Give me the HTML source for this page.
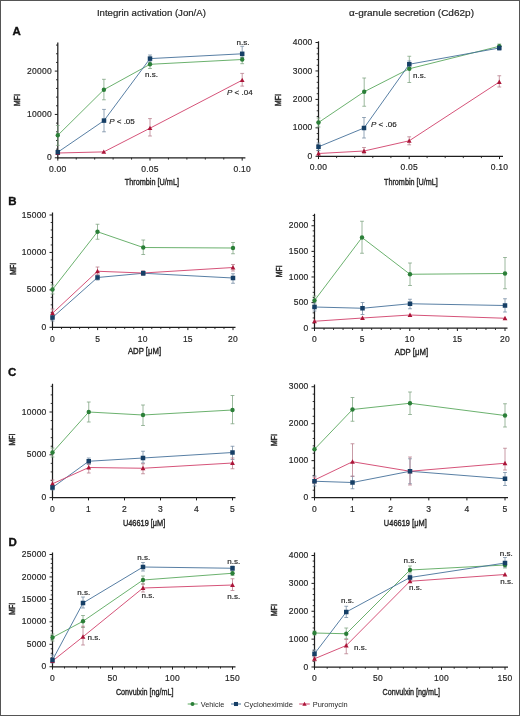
<!DOCTYPE html>
<html><head><meta charset="utf-8"><style>
html,body{margin:0;padding:0;background:#fff;}
body{width:520px;height:716px;overflow:hidden;}
svg{display:block;font-family:"Liberation Sans", sans-serif;will-change:transform;}
</style></head><body>
<svg width="520" height="716" viewBox="0 0 520 716">
<rect x="0" y="0" width="520" height="716" fill="#fff"/>
<line x1="57.8" y1="42.5" x2="57.8" y2="158.4" stroke="#1e1e1e" stroke-width="1.25"/>
<line x1="57.199999999999996" y1="157.8" x2="245.4" y2="157.8" stroke="#1e1e1e" stroke-width="1.25"/>
<line x1="54.8" y1="157.8" x2="57.8" y2="157.8" stroke="#1e1e1e" stroke-width="1"/>
<text x="51.90" y="160.40" font-size="8.5" text-anchor="end" font-weight="normal" font-style="normal" fill="#262626" stroke="#262626" stroke-width="0.18" letter-spacing="0.25">0</text>
<line x1="54.8" y1="114.45" x2="57.8" y2="114.45" stroke="#1e1e1e" stroke-width="1"/>
<text x="51.90" y="117.05" font-size="8.5" text-anchor="end" font-weight="normal" font-style="normal" fill="#262626" stroke="#262626" stroke-width="0.18" letter-spacing="0.25">10000</text>
<line x1="54.8" y1="71.1" x2="57.8" y2="71.1" stroke="#1e1e1e" stroke-width="1"/>
<text x="51.90" y="73.70" font-size="8.5" text-anchor="end" font-weight="normal" font-style="normal" fill="#262626" stroke="#262626" stroke-width="0.18" letter-spacing="0.25">20000</text>
<line x1="56.0" y1="149.13" x2="57.8" y2="149.13" stroke="#1e1e1e" stroke-width="0.9"/>
<line x1="56.0" y1="140.46" x2="57.8" y2="140.46" stroke="#1e1e1e" stroke-width="0.9"/>
<line x1="56.0" y1="131.79" x2="57.8" y2="131.79" stroke="#1e1e1e" stroke-width="0.9"/>
<line x1="56.0" y1="123.12" x2="57.8" y2="123.12" stroke="#1e1e1e" stroke-width="0.9"/>
<line x1="56.0" y1="105.78" x2="57.8" y2="105.78" stroke="#1e1e1e" stroke-width="0.9"/>
<line x1="56.0" y1="97.11" x2="57.8" y2="97.11" stroke="#1e1e1e" stroke-width="0.9"/>
<line x1="56.0" y1="88.44" x2="57.8" y2="88.44" stroke="#1e1e1e" stroke-width="0.9"/>
<line x1="56.0" y1="79.77" x2="57.8" y2="79.77" stroke="#1e1e1e" stroke-width="0.9"/>
<line x1="56.0" y1="62.43" x2="57.8" y2="62.43" stroke="#1e1e1e" stroke-width="0.9"/>
<line x1="56.0" y1="53.76" x2="57.8" y2="53.76" stroke="#1e1e1e" stroke-width="0.9"/>
<line x1="56.0" y1="45.09" x2="57.8" y2="45.09" stroke="#1e1e1e" stroke-width="0.9"/>
<line x1="57.8" y1="157.8" x2="57.8" y2="160.60000000000002" stroke="#1e1e1e" stroke-width="1"/>
<text x="57.80" y="171.50" font-size="8.5" text-anchor="middle" font-weight="normal" font-style="normal" fill="#262626" stroke="#262626" stroke-width="0.18" letter-spacing="0.25">0.00</text>
<line x1="150.0" y1="157.8" x2="150.0" y2="160.60000000000002" stroke="#1e1e1e" stroke-width="1"/>
<text x="150.00" y="171.50" font-size="8.5" text-anchor="middle" font-weight="normal" font-style="normal" fill="#262626" stroke="#262626" stroke-width="0.18" letter-spacing="0.25">0.05</text>
<line x1="242.2" y1="157.8" x2="242.2" y2="160.60000000000002" stroke="#1e1e1e" stroke-width="1"/>
<text x="242.20" y="171.50" font-size="8.5" text-anchor="middle" font-weight="normal" font-style="normal" fill="#262626" stroke="#262626" stroke-width="0.18" letter-spacing="0.25">0.10</text>
<line x1="76.24" y1="157.8" x2="76.24" y2="159.60000000000002" stroke="#1e1e1e" stroke-width="0.9"/>
<line x1="94.68" y1="157.8" x2="94.68" y2="159.60000000000002" stroke="#1e1e1e" stroke-width="0.9"/>
<line x1="113.12" y1="157.8" x2="113.12" y2="159.60000000000002" stroke="#1e1e1e" stroke-width="0.9"/>
<line x1="131.56" y1="157.8" x2="131.56" y2="159.60000000000002" stroke="#1e1e1e" stroke-width="0.9"/>
<line x1="168.44" y1="157.8" x2="168.44" y2="159.60000000000002" stroke="#1e1e1e" stroke-width="0.9"/>
<line x1="186.88" y1="157.8" x2="186.88" y2="159.60000000000002" stroke="#1e1e1e" stroke-width="0.9"/>
<line x1="205.32" y1="157.8" x2="205.32" y2="159.60000000000002" stroke="#1e1e1e" stroke-width="0.9"/>
<line x1="223.76" y1="157.8" x2="223.76" y2="159.60000000000002" stroke="#1e1e1e" stroke-width="0.9"/>
<text x="151.9" y="184.9" font-size="9.9" text-anchor="middle" fill="#262626" stroke="#262626" stroke-width="0.42" textLength="54.2" lengthAdjust="spacingAndGlyphs">Thrombin [U/mL]</text>
<text x="0" y="0" font-size="8.5" text-anchor="middle" fill="#262626" textLength="11.8" lengthAdjust="spacingAndGlyphs" stroke="#262626" stroke-width="0.5" transform="translate(20.2,100) rotate(-90)">MFI</text>
<path d="M57.80 125.50V145.40M55.90 125.50H59.70M55.90 145.40H59.70" stroke="#7ba27d" stroke-width="0.75" fill="none"/>
<path d="M103.90 79.30V99.80M102.00 79.30H105.80M102.00 99.80H105.80" stroke="#7ba27d" stroke-width="0.75" fill="none"/>
<path d="M150.00 60.00V68.50M148.10 60.00H151.90M148.10 68.50H151.90" stroke="#7ba27d" stroke-width="0.75" fill="none"/>
<path d="M242.20 57.00V63.70M240.30 57.00H244.10M240.30 63.70H244.10" stroke="#7ba27d" stroke-width="0.75" fill="none"/>
<path d="M104.00 109.40V131.80M102.10 109.40H105.90M102.10 131.80H105.90" stroke="#7088a0" stroke-width="0.75" fill="none"/>
<path d="M150.00 55.00V62.00M148.10 55.00H151.90M148.10 62.00H151.90" stroke="#7088a0" stroke-width="0.75" fill="none"/>
<path d="M242.20 46.30V57.50M240.30 46.30H244.10M240.30 57.50H244.10" stroke="#7088a0" stroke-width="0.75" fill="none"/>
<path d="M150.00 118.60V136.00M148.10 118.60H151.90M148.10 136.00H151.90" stroke="#b57a88" stroke-width="0.75" fill="none"/>
<path d="M242.20 73.40V86.10M240.30 73.40H244.10M240.30 86.10H244.10" stroke="#b57a88" stroke-width="0.75" fill="none"/>
<path d="M57.80 135.30 L103.90 89.70 L150.00 64.30 L242.20 59.50" stroke="#5aa85e" stroke-width="0.9" fill="none"/>
<path d="M57.80 152.20 L104.00 120.60 L150.00 58.60 L242.20 53.80" stroke="#45709a" stroke-width="0.9" fill="none"/>
<path d="M57.80 153.00 L103.80 151.90 L150.00 128.20 L242.20 80.20" stroke="#d0406a" stroke-width="0.9" fill="none"/>
<path d="M57.80 150.60L60.20 154.92L55.40 154.92Z" fill="#ab1538"/>
<path d="M103.80 149.50L106.20 153.82L101.40 153.82Z" fill="#ab1538"/>
<path d="M150.00 125.80L152.40 130.12L147.60 130.12Z" fill="#ab1538"/>
<path d="M242.20 77.80L244.60 82.12L239.80 82.12Z" fill="#ab1538"/>
<circle cx="57.80" cy="135.30" r="2.20" fill="#2b7f38"/>
<circle cx="103.90" cy="89.70" r="2.20" fill="#2b7f38"/>
<circle cx="150.00" cy="64.30" r="2.20" fill="#2b7f38"/>
<circle cx="242.20" cy="59.50" r="2.20" fill="#2b7f38"/>
<rect x="55.55" y="149.95" width="4.50" height="4.50" fill="#163f66"/>
<rect x="101.75" y="118.35" width="4.50" height="4.50" fill="#163f66"/>
<rect x="147.75" y="56.35" width="4.50" height="4.50" fill="#163f66"/>
<rect x="239.95" y="51.55" width="4.50" height="4.50" fill="#163f66"/>
<text x="109.20" y="123.50" font-size="8.0" text-anchor="start" font-weight="normal" font-style="normal" fill="#262626" stroke="#262626" stroke-width="0.18" ><tspan font-style="italic">P</tspan> &lt; .05</text>
<text x="151.50" y="76.50" font-size="8.0" text-anchor="middle" font-weight="normal" font-style="normal" fill="#262626" stroke="#262626" stroke-width="0.18" >n.s.</text>
<text x="243.00" y="44.80" font-size="8.0" text-anchor="middle" font-weight="normal" font-style="normal" fill="#262626" stroke="#262626" stroke-width="0.18" >n.s.</text>
<text x="227.00" y="95.30" font-size="8.0" text-anchor="start" font-weight="normal" font-style="normal" fill="#262626" stroke="#262626" stroke-width="0.18" ><tspan font-style="italic">P</tspan> &lt; .04</text>
<line x1="318.5" y1="41.3" x2="318.5" y2="156.9" stroke="#1e1e1e" stroke-width="1.25"/>
<line x1="317.9" y1="156.3" x2="503" y2="156.3" stroke="#1e1e1e" stroke-width="1.25"/>
<line x1="315.5" y1="156.3" x2="318.5" y2="156.3" stroke="#1e1e1e" stroke-width="1"/>
<text x="312.60" y="158.90" font-size="8.5" text-anchor="end" font-weight="normal" font-style="normal" fill="#262626" stroke="#262626" stroke-width="0.18" letter-spacing="0.25">0</text>
<line x1="315.5" y1="127.85000000000001" x2="318.5" y2="127.85000000000001" stroke="#1e1e1e" stroke-width="1"/>
<text x="312.60" y="130.45" font-size="8.5" text-anchor="end" font-weight="normal" font-style="normal" fill="#262626" stroke="#262626" stroke-width="0.18" letter-spacing="0.25">1000</text>
<line x1="315.5" y1="99.4" x2="318.5" y2="99.4" stroke="#1e1e1e" stroke-width="1"/>
<text x="312.60" y="102.00" font-size="8.5" text-anchor="end" font-weight="normal" font-style="normal" fill="#262626" stroke="#262626" stroke-width="0.18" letter-spacing="0.25">2000</text>
<line x1="315.5" y1="70.95" x2="318.5" y2="70.95" stroke="#1e1e1e" stroke-width="1"/>
<text x="312.60" y="73.55" font-size="8.5" text-anchor="end" font-weight="normal" font-style="normal" fill="#262626" stroke="#262626" stroke-width="0.18" letter-spacing="0.25">3000</text>
<line x1="315.5" y1="42.5" x2="318.5" y2="42.5" stroke="#1e1e1e" stroke-width="1"/>
<text x="312.60" y="45.10" font-size="8.5" text-anchor="end" font-weight="normal" font-style="normal" fill="#262626" stroke="#262626" stroke-width="0.18" letter-spacing="0.25">4000</text>
<line x1="316.7" y1="150.61" x2="318.5" y2="150.61" stroke="#1e1e1e" stroke-width="0.9"/>
<line x1="316.7" y1="144.92" x2="318.5" y2="144.92" stroke="#1e1e1e" stroke-width="0.9"/>
<line x1="316.7" y1="139.23" x2="318.5" y2="139.23" stroke="#1e1e1e" stroke-width="0.9"/>
<line x1="316.7" y1="133.54" x2="318.5" y2="133.54" stroke="#1e1e1e" stroke-width="0.9"/>
<line x1="316.7" y1="122.16" x2="318.5" y2="122.16" stroke="#1e1e1e" stroke-width="0.9"/>
<line x1="316.7" y1="116.47" x2="318.5" y2="116.47" stroke="#1e1e1e" stroke-width="0.9"/>
<line x1="316.7" y1="110.78" x2="318.5" y2="110.78" stroke="#1e1e1e" stroke-width="0.9"/>
<line x1="316.7" y1="105.09" x2="318.5" y2="105.09" stroke="#1e1e1e" stroke-width="0.9"/>
<line x1="316.7" y1="93.71" x2="318.5" y2="93.71" stroke="#1e1e1e" stroke-width="0.9"/>
<line x1="316.7" y1="88.02" x2="318.5" y2="88.02" stroke="#1e1e1e" stroke-width="0.9"/>
<line x1="316.7" y1="82.33" x2="318.5" y2="82.33" stroke="#1e1e1e" stroke-width="0.9"/>
<line x1="316.7" y1="76.64" x2="318.5" y2="76.64" stroke="#1e1e1e" stroke-width="0.9"/>
<line x1="316.7" y1="65.26" x2="318.5" y2="65.26" stroke="#1e1e1e" stroke-width="0.9"/>
<line x1="316.7" y1="59.57" x2="318.5" y2="59.57" stroke="#1e1e1e" stroke-width="0.9"/>
<line x1="316.7" y1="53.88" x2="318.5" y2="53.88" stroke="#1e1e1e" stroke-width="0.9"/>
<line x1="316.7" y1="48.19" x2="318.5" y2="48.19" stroke="#1e1e1e" stroke-width="0.9"/>
<line x1="318.5" y1="156.3" x2="318.5" y2="159.10000000000002" stroke="#1e1e1e" stroke-width="1"/>
<text x="318.50" y="170.00" font-size="8.5" text-anchor="middle" font-weight="normal" font-style="normal" fill="#262626" stroke="#262626" stroke-width="0.18" letter-spacing="0.25">0.00</text>
<line x1="409.2" y1="156.3" x2="409.2" y2="159.10000000000002" stroke="#1e1e1e" stroke-width="1"/>
<text x="409.20" y="170.00" font-size="8.5" text-anchor="middle" font-weight="normal" font-style="normal" fill="#262626" stroke="#262626" stroke-width="0.18" letter-spacing="0.25">0.05</text>
<line x1="499.5" y1="156.3" x2="499.5" y2="159.10000000000002" stroke="#1e1e1e" stroke-width="1"/>
<text x="499.50" y="170.00" font-size="8.5" text-anchor="middle" font-weight="normal" font-style="normal" fill="#262626" stroke="#262626" stroke-width="0.18" letter-spacing="0.25">0.10</text>
<line x1="336.60" y1="156.3" x2="336.60" y2="158.10000000000002" stroke="#1e1e1e" stroke-width="0.9"/>
<line x1="354.70" y1="156.3" x2="354.70" y2="158.10000000000002" stroke="#1e1e1e" stroke-width="0.9"/>
<line x1="372.80" y1="156.3" x2="372.80" y2="158.10000000000002" stroke="#1e1e1e" stroke-width="0.9"/>
<line x1="390.90" y1="156.3" x2="390.90" y2="158.10000000000002" stroke="#1e1e1e" stroke-width="0.9"/>
<line x1="427.10" y1="156.3" x2="427.10" y2="158.10000000000002" stroke="#1e1e1e" stroke-width="0.9"/>
<line x1="445.20" y1="156.3" x2="445.20" y2="158.10000000000002" stroke="#1e1e1e" stroke-width="0.9"/>
<line x1="463.30" y1="156.3" x2="463.30" y2="158.10000000000002" stroke="#1e1e1e" stroke-width="0.9"/>
<line x1="481.40" y1="156.3" x2="481.40" y2="158.10000000000002" stroke="#1e1e1e" stroke-width="0.9"/>
<text x="410.9" y="185.3" font-size="9.9" text-anchor="middle" fill="#262626" stroke="#262626" stroke-width="0.42" textLength="53.7" lengthAdjust="spacingAndGlyphs">Thrombin [U/mL]</text>
<text x="0" y="0" font-size="8.5" text-anchor="middle" fill="#262626" textLength="11.8" lengthAdjust="spacingAndGlyphs" stroke="#262626" stroke-width="0.5" transform="translate(281.45,100) rotate(-90)">MFI</text>
<path d="M318.50 118.00V127.00M316.60 118.00H320.40M316.60 127.00H320.40" stroke="#7ba27d" stroke-width="0.75" fill="none"/>
<path d="M364.20 78.00V106.25M362.30 78.00H366.10M362.30 106.25H366.10" stroke="#7ba27d" stroke-width="0.75" fill="none"/>
<path d="M409.30 56.25V82.50M407.40 56.25H411.20M407.40 82.50H411.20" stroke="#7ba27d" stroke-width="0.75" fill="none"/>
<path d="M499.30 44.00V48.50M497.40 44.00H501.20M497.40 48.50H501.20" stroke="#7ba27d" stroke-width="0.75" fill="none"/>
<path d="M318.50 143.00V150.50M316.60 143.00H320.40M316.60 150.50H320.40" stroke="#7088a0" stroke-width="0.75" fill="none"/>
<path d="M364.00 117.50V138.00M362.10 117.50H365.90M362.10 138.00H365.90" stroke="#7088a0" stroke-width="0.75" fill="none"/>
<path d="M409.30 61.00V67.50M407.40 61.00H411.20M407.40 67.50H411.20" stroke="#7088a0" stroke-width="0.75" fill="none"/>
<path d="M499.30 46.00V50.00M497.40 46.00H501.20M497.40 50.00H501.20" stroke="#7088a0" stroke-width="0.75" fill="none"/>
<path d="M364.00 147.50V153.75M362.10 147.50H365.90M362.10 153.75H365.90" stroke="#b57a88" stroke-width="0.75" fill="none"/>
<path d="M409.20 136.80V144.80M407.30 136.80H411.10M407.30 144.80H411.10" stroke="#b57a88" stroke-width="0.75" fill="none"/>
<path d="M499.30 75.75V87.00M497.40 75.75H501.20M497.40 87.00H501.20" stroke="#b57a88" stroke-width="0.75" fill="none"/>
<path d="M318.50 122.50 L364.20 91.75 L409.30 68.75 L499.30 46.25" stroke="#5aa85e" stroke-width="0.9" fill="none"/>
<path d="M318.50 146.80 L364.00 128.00 L409.30 64.25 L499.30 48.00" stroke="#45709a" stroke-width="0.9" fill="none"/>
<path d="M318.50 153.50 L364.00 151.00 L409.20 140.80 L499.30 82.00" stroke="#d0406a" stroke-width="0.9" fill="none"/>
<path d="M318.50 151.10L320.90 155.42L316.10 155.42Z" fill="#ab1538"/>
<path d="M364.00 148.60L366.40 152.92L361.60 152.92Z" fill="#ab1538"/>
<path d="M409.20 138.40L411.60 142.72L406.80 142.72Z" fill="#ab1538"/>
<path d="M499.30 79.60L501.70 83.92L496.90 83.92Z" fill="#ab1538"/>
<circle cx="318.50" cy="122.50" r="2.20" fill="#2b7f38"/>
<circle cx="364.20" cy="91.75" r="2.20" fill="#2b7f38"/>
<circle cx="409.30" cy="68.75" r="2.20" fill="#2b7f38"/>
<circle cx="499.30" cy="46.25" r="2.20" fill="#2b7f38"/>
<rect x="316.25" y="144.55" width="4.50" height="4.50" fill="#163f66"/>
<rect x="361.75" y="125.75" width="4.50" height="4.50" fill="#163f66"/>
<rect x="407.05" y="62.00" width="4.50" height="4.50" fill="#163f66"/>
<rect x="497.05" y="45.75" width="4.50" height="4.50" fill="#163f66"/>
<text x="371.00" y="127.20" font-size="8.0" text-anchor="start" font-weight="normal" font-style="normal" fill="#262626" stroke="#262626" stroke-width="0.18" ><tspan font-style="italic">P</tspan> &lt; .06</text>
<text x="413.00" y="78.00" font-size="8.0" text-anchor="start" font-weight="normal" font-style="normal" fill="#262626" stroke="#262626" stroke-width="0.18" >n.s.</text>
<line x1="52.5" y1="212.5" x2="52.5" y2="327.90000000000003" stroke="#1e1e1e" stroke-width="1.25"/>
<line x1="51.9" y1="327.3" x2="235.5" y2="327.3" stroke="#1e1e1e" stroke-width="1.25"/>
<line x1="49.5" y1="327.3" x2="52.5" y2="327.3" stroke="#1e1e1e" stroke-width="1"/>
<text x="46.60" y="329.90" font-size="8.5" text-anchor="end" font-weight="normal" font-style="normal" fill="#262626" stroke="#262626" stroke-width="0.18" letter-spacing="0.25">0</text>
<line x1="49.5" y1="289.8666666666667" x2="52.5" y2="289.8666666666667" stroke="#1e1e1e" stroke-width="1"/>
<text x="46.60" y="292.47" font-size="8.5" text-anchor="end" font-weight="normal" font-style="normal" fill="#262626" stroke="#262626" stroke-width="0.18" letter-spacing="0.25">5000</text>
<line x1="49.5" y1="252.43333333333334" x2="52.5" y2="252.43333333333334" stroke="#1e1e1e" stroke-width="1"/>
<text x="46.60" y="255.03" font-size="8.5" text-anchor="end" font-weight="normal" font-style="normal" fill="#262626" stroke="#262626" stroke-width="0.18" letter-spacing="0.25">10000</text>
<line x1="49.5" y1="215.0" x2="52.5" y2="215.0" stroke="#1e1e1e" stroke-width="1"/>
<text x="46.60" y="217.60" font-size="8.5" text-anchor="end" font-weight="normal" font-style="normal" fill="#262626" stroke="#262626" stroke-width="0.18" letter-spacing="0.25">15000</text>
<line x1="50.7" y1="319.81" x2="52.5" y2="319.81" stroke="#1e1e1e" stroke-width="0.9"/>
<line x1="50.7" y1="312.33" x2="52.5" y2="312.33" stroke="#1e1e1e" stroke-width="0.9"/>
<line x1="50.7" y1="304.84" x2="52.5" y2="304.84" stroke="#1e1e1e" stroke-width="0.9"/>
<line x1="50.7" y1="297.35" x2="52.5" y2="297.35" stroke="#1e1e1e" stroke-width="0.9"/>
<line x1="50.7" y1="282.38" x2="52.5" y2="282.38" stroke="#1e1e1e" stroke-width="0.9"/>
<line x1="50.7" y1="274.89" x2="52.5" y2="274.89" stroke="#1e1e1e" stroke-width="0.9"/>
<line x1="50.7" y1="267.41" x2="52.5" y2="267.41" stroke="#1e1e1e" stroke-width="0.9"/>
<line x1="50.7" y1="259.92" x2="52.5" y2="259.92" stroke="#1e1e1e" stroke-width="0.9"/>
<line x1="50.7" y1="244.95" x2="52.5" y2="244.95" stroke="#1e1e1e" stroke-width="0.9"/>
<line x1="50.7" y1="237.46" x2="52.5" y2="237.46" stroke="#1e1e1e" stroke-width="0.9"/>
<line x1="50.7" y1="229.97" x2="52.5" y2="229.97" stroke="#1e1e1e" stroke-width="0.9"/>
<line x1="50.7" y1="222.49" x2="52.5" y2="222.49" stroke="#1e1e1e" stroke-width="0.9"/>
<line x1="52.5" y1="327.3" x2="52.5" y2="330.1" stroke="#1e1e1e" stroke-width="1"/>
<text x="52.50" y="341.50" font-size="8.5" text-anchor="middle" font-weight="normal" font-style="normal" fill="#262626" stroke="#262626" stroke-width="0.18" letter-spacing="0.25">0</text>
<line x1="97.625" y1="327.3" x2="97.625" y2="330.1" stroke="#1e1e1e" stroke-width="1"/>
<text x="97.62" y="341.50" font-size="8.5" text-anchor="middle" font-weight="normal" font-style="normal" fill="#262626" stroke="#262626" stroke-width="0.18" letter-spacing="0.25">5</text>
<line x1="142.75" y1="327.3" x2="142.75" y2="330.1" stroke="#1e1e1e" stroke-width="1"/>
<text x="142.75" y="341.50" font-size="8.5" text-anchor="middle" font-weight="normal" font-style="normal" fill="#262626" stroke="#262626" stroke-width="0.18" letter-spacing="0.25">10</text>
<line x1="187.875" y1="327.3" x2="187.875" y2="330.1" stroke="#1e1e1e" stroke-width="1"/>
<text x="187.88" y="341.50" font-size="8.5" text-anchor="middle" font-weight="normal" font-style="normal" fill="#262626" stroke="#262626" stroke-width="0.18" letter-spacing="0.25">15</text>
<line x1="233.0" y1="327.3" x2="233.0" y2="330.1" stroke="#1e1e1e" stroke-width="1"/>
<text x="233.00" y="341.50" font-size="8.5" text-anchor="middle" font-weight="normal" font-style="normal" fill="#262626" stroke="#262626" stroke-width="0.18" letter-spacing="0.25">20</text>
<line x1="61.52" y1="327.3" x2="61.52" y2="329.1" stroke="#1e1e1e" stroke-width="0.9"/>
<line x1="70.55" y1="327.3" x2="70.55" y2="329.1" stroke="#1e1e1e" stroke-width="0.9"/>
<line x1="79.58" y1="327.3" x2="79.58" y2="329.1" stroke="#1e1e1e" stroke-width="0.9"/>
<line x1="88.60" y1="327.3" x2="88.60" y2="329.1" stroke="#1e1e1e" stroke-width="0.9"/>
<line x1="106.65" y1="327.3" x2="106.65" y2="329.1" stroke="#1e1e1e" stroke-width="0.9"/>
<line x1="115.68" y1="327.3" x2="115.68" y2="329.1" stroke="#1e1e1e" stroke-width="0.9"/>
<line x1="124.70" y1="327.3" x2="124.70" y2="329.1" stroke="#1e1e1e" stroke-width="0.9"/>
<line x1="133.73" y1="327.3" x2="133.73" y2="329.1" stroke="#1e1e1e" stroke-width="0.9"/>
<line x1="151.78" y1="327.3" x2="151.78" y2="329.1" stroke="#1e1e1e" stroke-width="0.9"/>
<line x1="160.80" y1="327.3" x2="160.80" y2="329.1" stroke="#1e1e1e" stroke-width="0.9"/>
<line x1="169.82" y1="327.3" x2="169.82" y2="329.1" stroke="#1e1e1e" stroke-width="0.9"/>
<line x1="178.85" y1="327.3" x2="178.85" y2="329.1" stroke="#1e1e1e" stroke-width="0.9"/>
<line x1="196.90" y1="327.3" x2="196.90" y2="329.1" stroke="#1e1e1e" stroke-width="0.9"/>
<line x1="205.93" y1="327.3" x2="205.93" y2="329.1" stroke="#1e1e1e" stroke-width="0.9"/>
<line x1="214.95" y1="327.3" x2="214.95" y2="329.1" stroke="#1e1e1e" stroke-width="0.9"/>
<line x1="223.97" y1="327.3" x2="223.97" y2="329.1" stroke="#1e1e1e" stroke-width="0.9"/>
<text x="144.5" y="354.4" font-size="9.9" text-anchor="middle" fill="#262626" stroke="#262626" stroke-width="0.42" textLength="33.1" lengthAdjust="spacingAndGlyphs">ADP [μM]</text>
<text x="0" y="0" font-size="8.5" text-anchor="middle" fill="#262626" textLength="11.8" lengthAdjust="spacingAndGlyphs" stroke="#262626" stroke-width="0.5" transform="translate(15.95,268.75) rotate(-90)">MFI</text>
<path d="M52.50 285.00V294.00M50.60 285.00H54.40M50.60 294.00H54.40" stroke="#7ba27d" stroke-width="0.75" fill="none"/>
<path d="M97.50 224.25V239.25M95.60 224.25H99.40M95.60 239.25H99.40" stroke="#7ba27d" stroke-width="0.75" fill="none"/>
<path d="M143.25 240.00V254.50M141.35 240.00H145.15M141.35 254.50H145.15" stroke="#7ba27d" stroke-width="0.75" fill="none"/>
<path d="M233.00 242.50V253.75M231.10 242.50H234.90M231.10 253.75H234.90" stroke="#7ba27d" stroke-width="0.75" fill="none"/>
<path d="M52.50 314.00V321.00M50.60 314.00H54.40M50.60 321.00H54.40" stroke="#7088a0" stroke-width="0.75" fill="none"/>
<path d="M97.50 275.00V280.00M95.60 275.00H99.40M95.60 280.00H99.40" stroke="#7088a0" stroke-width="0.75" fill="none"/>
<path d="M143.25 271.00V275.50M141.35 271.00H145.15M141.35 275.50H145.15" stroke="#7088a0" stroke-width="0.75" fill="none"/>
<path d="M233.00 273.75V283.25M231.10 273.75H234.90M231.10 283.25H234.90" stroke="#7088a0" stroke-width="0.75" fill="none"/>
<path d="M52.50 309.00V317.00M50.60 309.00H54.40M50.60 317.00H54.40" stroke="#b57a88" stroke-width="0.75" fill="none"/>
<path d="M97.50 267.00V275.00M95.60 267.00H99.40M95.60 275.00H99.40" stroke="#b57a88" stroke-width="0.75" fill="none"/>
<path d="M143.00 271.00V275.00M141.10 271.00H144.90M141.10 275.00H144.90" stroke="#b57a88" stroke-width="0.75" fill="none"/>
<path d="M233.00 264.50V271.00M231.10 264.50H234.90M231.10 271.00H234.90" stroke="#b57a88" stroke-width="0.75" fill="none"/>
<path d="M52.50 289.50 L97.50 231.75 L143.25 247.50 L233.00 248.00" stroke="#5aa85e" stroke-width="0.9" fill="none"/>
<path d="M52.50 317.50 L97.50 277.50 L143.25 273.25 L233.00 278.00" stroke="#45709a" stroke-width="0.9" fill="none"/>
<path d="M52.50 313.25 L97.50 271.25 L143.00 273.00 L233.00 267.50" stroke="#d0406a" stroke-width="0.9" fill="none"/>
<path d="M52.50 310.85L54.90 315.17L50.10 315.17Z" fill="#ab1538"/>
<path d="M97.50 268.85L99.90 273.17L95.10 273.17Z" fill="#ab1538"/>
<path d="M143.00 270.60L145.40 274.92L140.60 274.92Z" fill="#ab1538"/>
<path d="M233.00 265.10L235.40 269.42L230.60 269.42Z" fill="#ab1538"/>
<circle cx="52.50" cy="289.50" r="2.20" fill="#2b7f38"/>
<circle cx="97.50" cy="231.75" r="2.20" fill="#2b7f38"/>
<circle cx="143.25" cy="247.50" r="2.20" fill="#2b7f38"/>
<circle cx="233.00" cy="248.00" r="2.20" fill="#2b7f38"/>
<rect x="50.25" y="315.25" width="4.50" height="4.50" fill="#163f66"/>
<rect x="95.25" y="275.25" width="4.50" height="4.50" fill="#163f66"/>
<rect x="141.00" y="271.00" width="4.50" height="4.50" fill="#163f66"/>
<rect x="230.75" y="275.75" width="4.50" height="4.50" fill="#163f66"/>
<line x1="314.5" y1="213.75" x2="314.5" y2="328.8" stroke="#1e1e1e" stroke-width="1.25"/>
<line x1="313.9" y1="328.2" x2="507.5" y2="328.2" stroke="#1e1e1e" stroke-width="1.25"/>
<line x1="311.5" y1="328.2" x2="314.5" y2="328.2" stroke="#1e1e1e" stroke-width="1"/>
<text x="308.60" y="330.80" font-size="8.5" text-anchor="end" font-weight="normal" font-style="normal" fill="#262626" stroke="#262626" stroke-width="0.18" letter-spacing="0.25">0</text>
<line x1="311.5" y1="302.5875" x2="314.5" y2="302.5875" stroke="#1e1e1e" stroke-width="1"/>
<text x="308.60" y="305.19" font-size="8.5" text-anchor="end" font-weight="normal" font-style="normal" fill="#262626" stroke="#262626" stroke-width="0.18" letter-spacing="0.25">500</text>
<line x1="311.5" y1="276.975" x2="314.5" y2="276.975" stroke="#1e1e1e" stroke-width="1"/>
<text x="308.60" y="279.58" font-size="8.5" text-anchor="end" font-weight="normal" font-style="normal" fill="#262626" stroke="#262626" stroke-width="0.18" letter-spacing="0.25">1000</text>
<line x1="311.5" y1="251.3625" x2="314.5" y2="251.3625" stroke="#1e1e1e" stroke-width="1"/>
<text x="308.60" y="253.96" font-size="8.5" text-anchor="end" font-weight="normal" font-style="normal" fill="#262626" stroke="#262626" stroke-width="0.18" letter-spacing="0.25">1500</text>
<line x1="311.5" y1="225.75" x2="314.5" y2="225.75" stroke="#1e1e1e" stroke-width="1"/>
<text x="308.60" y="228.35" font-size="8.5" text-anchor="end" font-weight="normal" font-style="normal" fill="#262626" stroke="#262626" stroke-width="0.18" letter-spacing="0.25">2000</text>
<line x1="312.7" y1="323.08" x2="314.5" y2="323.08" stroke="#1e1e1e" stroke-width="0.9"/>
<line x1="312.7" y1="317.95" x2="314.5" y2="317.95" stroke="#1e1e1e" stroke-width="0.9"/>
<line x1="312.7" y1="312.83" x2="314.5" y2="312.83" stroke="#1e1e1e" stroke-width="0.9"/>
<line x1="312.7" y1="307.71" x2="314.5" y2="307.71" stroke="#1e1e1e" stroke-width="0.9"/>
<line x1="312.7" y1="297.46" x2="314.5" y2="297.46" stroke="#1e1e1e" stroke-width="0.9"/>
<line x1="312.7" y1="292.34" x2="314.5" y2="292.34" stroke="#1e1e1e" stroke-width="0.9"/>
<line x1="312.7" y1="287.22" x2="314.5" y2="287.22" stroke="#1e1e1e" stroke-width="0.9"/>
<line x1="312.7" y1="282.10" x2="314.5" y2="282.10" stroke="#1e1e1e" stroke-width="0.9"/>
<line x1="312.7" y1="271.85" x2="314.5" y2="271.85" stroke="#1e1e1e" stroke-width="0.9"/>
<line x1="312.7" y1="266.73" x2="314.5" y2="266.73" stroke="#1e1e1e" stroke-width="0.9"/>
<line x1="312.7" y1="261.61" x2="314.5" y2="261.61" stroke="#1e1e1e" stroke-width="0.9"/>
<line x1="312.7" y1="256.49" x2="314.5" y2="256.49" stroke="#1e1e1e" stroke-width="0.9"/>
<line x1="312.7" y1="246.24" x2="314.5" y2="246.24" stroke="#1e1e1e" stroke-width="0.9"/>
<line x1="312.7" y1="241.12" x2="314.5" y2="241.12" stroke="#1e1e1e" stroke-width="0.9"/>
<line x1="312.7" y1="236.00" x2="314.5" y2="236.00" stroke="#1e1e1e" stroke-width="0.9"/>
<line x1="312.7" y1="230.87" x2="314.5" y2="230.87" stroke="#1e1e1e" stroke-width="0.9"/>
<line x1="312.7" y1="220.63" x2="314.5" y2="220.63" stroke="#1e1e1e" stroke-width="0.9"/>
<line x1="312.7" y1="215.50" x2="314.5" y2="215.50" stroke="#1e1e1e" stroke-width="0.9"/>
<line x1="314.5" y1="328.2" x2="314.5" y2="331.0" stroke="#1e1e1e" stroke-width="1"/>
<text x="314.50" y="342.00" font-size="8.5" text-anchor="middle" font-weight="normal" font-style="normal" fill="#262626" stroke="#262626" stroke-width="0.18" letter-spacing="0.25">0</text>
<line x1="362.125" y1="328.2" x2="362.125" y2="331.0" stroke="#1e1e1e" stroke-width="1"/>
<text x="362.12" y="342.00" font-size="8.5" text-anchor="middle" font-weight="normal" font-style="normal" fill="#262626" stroke="#262626" stroke-width="0.18" letter-spacing="0.25">5</text>
<line x1="409.75" y1="328.2" x2="409.75" y2="331.0" stroke="#1e1e1e" stroke-width="1"/>
<text x="409.75" y="342.00" font-size="8.5" text-anchor="middle" font-weight="normal" font-style="normal" fill="#262626" stroke="#262626" stroke-width="0.18" letter-spacing="0.25">10</text>
<line x1="457.375" y1="328.2" x2="457.375" y2="331.0" stroke="#1e1e1e" stroke-width="1"/>
<text x="457.38" y="342.00" font-size="8.5" text-anchor="middle" font-weight="normal" font-style="normal" fill="#262626" stroke="#262626" stroke-width="0.18" letter-spacing="0.25">15</text>
<line x1="505.0" y1="328.2" x2="505.0" y2="331.0" stroke="#1e1e1e" stroke-width="1"/>
<text x="505.00" y="342.00" font-size="8.5" text-anchor="middle" font-weight="normal" font-style="normal" fill="#262626" stroke="#262626" stroke-width="0.18" letter-spacing="0.25">20</text>
<line x1="324.02" y1="328.2" x2="324.02" y2="330.0" stroke="#1e1e1e" stroke-width="0.9"/>
<line x1="333.55" y1="328.2" x2="333.55" y2="330.0" stroke="#1e1e1e" stroke-width="0.9"/>
<line x1="343.07" y1="328.2" x2="343.07" y2="330.0" stroke="#1e1e1e" stroke-width="0.9"/>
<line x1="352.60" y1="328.2" x2="352.60" y2="330.0" stroke="#1e1e1e" stroke-width="0.9"/>
<line x1="371.65" y1="328.2" x2="371.65" y2="330.0" stroke="#1e1e1e" stroke-width="0.9"/>
<line x1="381.18" y1="328.2" x2="381.18" y2="330.0" stroke="#1e1e1e" stroke-width="0.9"/>
<line x1="390.70" y1="328.2" x2="390.70" y2="330.0" stroke="#1e1e1e" stroke-width="0.9"/>
<line x1="400.23" y1="328.2" x2="400.23" y2="330.0" stroke="#1e1e1e" stroke-width="0.9"/>
<line x1="419.27" y1="328.2" x2="419.27" y2="330.0" stroke="#1e1e1e" stroke-width="0.9"/>
<line x1="428.80" y1="328.2" x2="428.80" y2="330.0" stroke="#1e1e1e" stroke-width="0.9"/>
<line x1="438.32" y1="328.2" x2="438.32" y2="330.0" stroke="#1e1e1e" stroke-width="0.9"/>
<line x1="447.85" y1="328.2" x2="447.85" y2="330.0" stroke="#1e1e1e" stroke-width="0.9"/>
<line x1="466.90" y1="328.2" x2="466.90" y2="330.0" stroke="#1e1e1e" stroke-width="0.9"/>
<line x1="476.43" y1="328.2" x2="476.43" y2="330.0" stroke="#1e1e1e" stroke-width="0.9"/>
<line x1="485.95" y1="328.2" x2="485.95" y2="330.0" stroke="#1e1e1e" stroke-width="0.9"/>
<line x1="495.48" y1="328.2" x2="495.48" y2="330.0" stroke="#1e1e1e" stroke-width="0.9"/>
<text x="411.4" y="355.4" font-size="9.9" text-anchor="middle" fill="#262626" stroke="#262626" stroke-width="0.42" textLength="33.3" lengthAdjust="spacingAndGlyphs">ADP [μM]</text>
<text x="0" y="0" font-size="8.5" text-anchor="middle" fill="#262626" textLength="11.8" lengthAdjust="spacingAndGlyphs" stroke="#262626" stroke-width="0.5" transform="translate(282.2,271.25) rotate(-90)">MFI</text>
<path d="M314.50 296.00V305.00M312.60 296.00H316.40M312.60 305.00H316.40" stroke="#7ba27d" stroke-width="0.75" fill="none"/>
<path d="M362.00 221.25V253.25M360.10 221.25H363.90M360.10 253.25H363.90" stroke="#7ba27d" stroke-width="0.75" fill="none"/>
<path d="M410.00 263.00V285.50M408.10 263.00H411.90M408.10 285.50H411.90" stroke="#7ba27d" stroke-width="0.75" fill="none"/>
<path d="M505.00 257.50V288.75M503.10 257.50H506.90M503.10 288.75H506.90" stroke="#7ba27d" stroke-width="0.75" fill="none"/>
<path d="M314.50 303.00V311.00M312.60 303.00H316.40M312.60 311.00H316.40" stroke="#7088a0" stroke-width="0.75" fill="none"/>
<path d="M362.50 302.50V314.50M360.60 302.50H364.40M360.60 314.50H364.40" stroke="#7088a0" stroke-width="0.75" fill="none"/>
<path d="M410.00 299.25V308.75M408.10 299.25H411.90M408.10 308.75H411.90" stroke="#7088a0" stroke-width="0.75" fill="none"/>
<path d="M505.00 298.75V312.00M503.10 298.75H506.90M503.10 312.00H506.90" stroke="#7088a0" stroke-width="0.75" fill="none"/>
<path d="M314.50 300.50 L362.00 237.50 L410.00 274.25 L505.00 273.50" stroke="#5aa85e" stroke-width="0.9" fill="none"/>
<path d="M314.50 307.00 L362.50 308.25 L410.00 303.75 L505.00 305.50" stroke="#45709a" stroke-width="0.9" fill="none"/>
<path d="M314.50 321.25 L362.50 318.00 L410.00 315.00 L505.00 318.25" stroke="#d0406a" stroke-width="0.9" fill="none"/>
<path d="M314.50 318.85L316.90 323.17L312.10 323.17Z" fill="#ab1538"/>
<path d="M362.50 315.60L364.90 319.92L360.10 319.92Z" fill="#ab1538"/>
<path d="M410.00 312.60L412.40 316.92L407.60 316.92Z" fill="#ab1538"/>
<path d="M505.00 315.85L507.40 320.17L502.60 320.17Z" fill="#ab1538"/>
<circle cx="314.50" cy="300.50" r="2.20" fill="#2b7f38"/>
<circle cx="362.00" cy="237.50" r="2.20" fill="#2b7f38"/>
<circle cx="410.00" cy="274.25" r="2.20" fill="#2b7f38"/>
<circle cx="505.00" cy="273.50" r="2.20" fill="#2b7f38"/>
<rect x="312.25" y="304.75" width="4.50" height="4.50" fill="#163f66"/>
<rect x="360.25" y="306.00" width="4.50" height="4.50" fill="#163f66"/>
<rect x="407.75" y="301.50" width="4.50" height="4.50" fill="#163f66"/>
<rect x="502.75" y="303.25" width="4.50" height="4.50" fill="#163f66"/>
<line x1="52.5" y1="383.75" x2="52.5" y2="498.20000000000005" stroke="#1e1e1e" stroke-width="1.25"/>
<line x1="51.9" y1="497.6" x2="235.5" y2="497.6" stroke="#1e1e1e" stroke-width="1.25"/>
<line x1="49.5" y1="497.6" x2="52.5" y2="497.6" stroke="#1e1e1e" stroke-width="1"/>
<text x="46.60" y="500.20" font-size="8.5" text-anchor="end" font-weight="normal" font-style="normal" fill="#262626" stroke="#262626" stroke-width="0.18" letter-spacing="0.25">0</text>
<line x1="49.5" y1="454.8" x2="52.5" y2="454.8" stroke="#1e1e1e" stroke-width="1"/>
<text x="46.60" y="457.40" font-size="8.5" text-anchor="end" font-weight="normal" font-style="normal" fill="#262626" stroke="#262626" stroke-width="0.18" letter-spacing="0.25">5000</text>
<line x1="49.5" y1="412.0" x2="52.5" y2="412.0" stroke="#1e1e1e" stroke-width="1"/>
<text x="46.60" y="414.60" font-size="8.5" text-anchor="end" font-weight="normal" font-style="normal" fill="#262626" stroke="#262626" stroke-width="0.18" letter-spacing="0.25">10000</text>
<line x1="50.7" y1="489.04" x2="52.5" y2="489.04" stroke="#1e1e1e" stroke-width="0.9"/>
<line x1="50.7" y1="480.48" x2="52.5" y2="480.48" stroke="#1e1e1e" stroke-width="0.9"/>
<line x1="50.7" y1="471.92" x2="52.5" y2="471.92" stroke="#1e1e1e" stroke-width="0.9"/>
<line x1="50.7" y1="463.36" x2="52.5" y2="463.36" stroke="#1e1e1e" stroke-width="0.9"/>
<line x1="50.7" y1="446.24" x2="52.5" y2="446.24" stroke="#1e1e1e" stroke-width="0.9"/>
<line x1="50.7" y1="437.68" x2="52.5" y2="437.68" stroke="#1e1e1e" stroke-width="0.9"/>
<line x1="50.7" y1="429.12" x2="52.5" y2="429.12" stroke="#1e1e1e" stroke-width="0.9"/>
<line x1="50.7" y1="420.56" x2="52.5" y2="420.56" stroke="#1e1e1e" stroke-width="0.9"/>
<line x1="50.7" y1="403.44" x2="52.5" y2="403.44" stroke="#1e1e1e" stroke-width="0.9"/>
<line x1="50.7" y1="394.88" x2="52.5" y2="394.88" stroke="#1e1e1e" stroke-width="0.9"/>
<line x1="50.7" y1="386.32" x2="52.5" y2="386.32" stroke="#1e1e1e" stroke-width="0.9"/>
<line x1="52.5" y1="497.6" x2="52.5" y2="500.40000000000003" stroke="#1e1e1e" stroke-width="1"/>
<text x="52.50" y="511.50" font-size="8.5" text-anchor="middle" font-weight="normal" font-style="normal" fill="#262626" stroke="#262626" stroke-width="0.18" letter-spacing="0.25">0</text>
<line x1="88.5" y1="497.6" x2="88.5" y2="500.40000000000003" stroke="#1e1e1e" stroke-width="1"/>
<text x="88.50" y="511.50" font-size="8.5" text-anchor="middle" font-weight="normal" font-style="normal" fill="#262626" stroke="#262626" stroke-width="0.18" letter-spacing="0.25">1</text>
<line x1="124.5" y1="497.6" x2="124.5" y2="500.40000000000003" stroke="#1e1e1e" stroke-width="1"/>
<text x="124.50" y="511.50" font-size="8.5" text-anchor="middle" font-weight="normal" font-style="normal" fill="#262626" stroke="#262626" stroke-width="0.18" letter-spacing="0.25">2</text>
<line x1="160.5" y1="497.6" x2="160.5" y2="500.40000000000003" stroke="#1e1e1e" stroke-width="1"/>
<text x="160.50" y="511.50" font-size="8.5" text-anchor="middle" font-weight="normal" font-style="normal" fill="#262626" stroke="#262626" stroke-width="0.18" letter-spacing="0.25">3</text>
<line x1="196.5" y1="497.6" x2="196.5" y2="500.40000000000003" stroke="#1e1e1e" stroke-width="1"/>
<text x="196.50" y="511.50" font-size="8.5" text-anchor="middle" font-weight="normal" font-style="normal" fill="#262626" stroke="#262626" stroke-width="0.18" letter-spacing="0.25">4</text>
<line x1="232.5" y1="497.6" x2="232.5" y2="500.40000000000003" stroke="#1e1e1e" stroke-width="1"/>
<text x="232.50" y="511.50" font-size="8.5" text-anchor="middle" font-weight="normal" font-style="normal" fill="#262626" stroke="#262626" stroke-width="0.18" letter-spacing="0.25">5</text>
<text x="144.1" y="525.6" font-size="9.9" text-anchor="middle" fill="#262626" stroke="#262626" stroke-width="0.42" textLength="42.3" lengthAdjust="spacingAndGlyphs">U46619 [μM]</text>
<text x="0" y="0" font-size="8.5" text-anchor="middle" fill="#262626" textLength="11.8" lengthAdjust="spacingAndGlyphs" stroke="#262626" stroke-width="0.5" transform="translate(15.2,439.5) rotate(-90)">MFI</text>
<path d="M52.50 448.00V457.00M50.60 448.00H54.40M50.60 457.00H54.40" stroke="#7ba27d" stroke-width="0.75" fill="none"/>
<path d="M88.75 402.00V422.00M86.85 402.00H90.65M86.85 422.00H90.65" stroke="#7ba27d" stroke-width="0.75" fill="none"/>
<path d="M143.00 405.00V425.50M141.10 405.00H144.90M141.10 425.50H144.90" stroke="#7ba27d" stroke-width="0.75" fill="none"/>
<path d="M232.50 395.50V423.75M230.60 395.50H234.40M230.60 423.75H234.40" stroke="#7ba27d" stroke-width="0.75" fill="none"/>
<path d="M52.50 485.00V490.00M50.60 485.00H54.40M50.60 490.00H54.40" stroke="#7088a0" stroke-width="0.75" fill="none"/>
<path d="M88.75 458.00V464.50M86.85 458.00H90.65M86.85 464.50H90.65" stroke="#7088a0" stroke-width="0.75" fill="none"/>
<path d="M143.00 451.25V463.00M141.10 451.25H144.90M141.10 463.00H144.90" stroke="#7088a0" stroke-width="0.75" fill="none"/>
<path d="M232.50 446.25V459.50M230.60 446.25H234.40M230.60 459.50H234.40" stroke="#7088a0" stroke-width="0.75" fill="none"/>
<path d="M52.50 480.00V488.00M50.60 480.00H54.40M50.60 488.00H54.40" stroke="#b57a88" stroke-width="0.75" fill="none"/>
<path d="M88.75 463.75V473.00M86.85 463.75H90.65M86.85 473.00H90.65" stroke="#b57a88" stroke-width="0.75" fill="none"/>
<path d="M143.00 463.75V473.75M141.10 463.75H144.90M141.10 473.75H144.90" stroke="#b57a88" stroke-width="0.75" fill="none"/>
<path d="M232.50 458.00V468.75M230.60 458.00H234.40M230.60 468.75H234.40" stroke="#b57a88" stroke-width="0.75" fill="none"/>
<path d="M52.50 452.50 L88.75 412.00 L143.00 415.00 L232.50 410.00" stroke="#5aa85e" stroke-width="0.9" fill="none"/>
<path d="M52.50 487.50 L88.75 461.25 L143.00 458.00 L232.50 452.50" stroke="#45709a" stroke-width="0.9" fill="none"/>
<path d="M52.50 483.75 L88.75 467.50 L143.00 468.25 L232.50 463.00" stroke="#d0406a" stroke-width="0.9" fill="none"/>
<path d="M52.50 481.35L54.90 485.67L50.10 485.67Z" fill="#ab1538"/>
<path d="M88.75 465.10L91.15 469.42L86.35 469.42Z" fill="#ab1538"/>
<path d="M143.00 465.85L145.40 470.17L140.60 470.17Z" fill="#ab1538"/>
<path d="M232.50 460.60L234.90 464.92L230.10 464.92Z" fill="#ab1538"/>
<circle cx="52.50" cy="452.50" r="2.20" fill="#2b7f38"/>
<circle cx="88.75" cy="412.00" r="2.20" fill="#2b7f38"/>
<circle cx="143.00" cy="415.00" r="2.20" fill="#2b7f38"/>
<circle cx="232.50" cy="410.00" r="2.20" fill="#2b7f38"/>
<rect x="50.25" y="485.25" width="4.50" height="4.50" fill="#163f66"/>
<rect x="86.50" y="459.00" width="4.50" height="4.50" fill="#163f66"/>
<rect x="140.75" y="455.75" width="4.50" height="4.50" fill="#163f66"/>
<rect x="230.25" y="450.25" width="4.50" height="4.50" fill="#163f66"/>
<line x1="314.5" y1="384.5" x2="314.5" y2="498.20000000000005" stroke="#1e1e1e" stroke-width="1.25"/>
<line x1="313.9" y1="497.6" x2="508" y2="497.6" stroke="#1e1e1e" stroke-width="1.25"/>
<line x1="311.5" y1="497.6" x2="314.5" y2="497.6" stroke="#1e1e1e" stroke-width="1"/>
<text x="308.60" y="500.20" font-size="8.5" text-anchor="end" font-weight="normal" font-style="normal" fill="#262626" stroke="#262626" stroke-width="0.18" letter-spacing="0.25">0</text>
<line x1="311.5" y1="460.65000000000003" x2="314.5" y2="460.65000000000003" stroke="#1e1e1e" stroke-width="1"/>
<text x="308.60" y="463.25" font-size="8.5" text-anchor="end" font-weight="normal" font-style="normal" fill="#262626" stroke="#262626" stroke-width="0.18" letter-spacing="0.25">1000</text>
<line x1="311.5" y1="423.7" x2="314.5" y2="423.7" stroke="#1e1e1e" stroke-width="1"/>
<text x="308.60" y="426.30" font-size="8.5" text-anchor="end" font-weight="normal" font-style="normal" fill="#262626" stroke="#262626" stroke-width="0.18" letter-spacing="0.25">2000</text>
<line x1="311.5" y1="386.75" x2="314.5" y2="386.75" stroke="#1e1e1e" stroke-width="1"/>
<text x="308.60" y="389.35" font-size="8.5" text-anchor="end" font-weight="normal" font-style="normal" fill="#262626" stroke="#262626" stroke-width="0.18" letter-spacing="0.25">3000</text>
<line x1="312.7" y1="490.21" x2="314.5" y2="490.21" stroke="#1e1e1e" stroke-width="0.9"/>
<line x1="312.7" y1="482.82" x2="314.5" y2="482.82" stroke="#1e1e1e" stroke-width="0.9"/>
<line x1="312.7" y1="475.43" x2="314.5" y2="475.43" stroke="#1e1e1e" stroke-width="0.9"/>
<line x1="312.7" y1="468.04" x2="314.5" y2="468.04" stroke="#1e1e1e" stroke-width="0.9"/>
<line x1="312.7" y1="453.26" x2="314.5" y2="453.26" stroke="#1e1e1e" stroke-width="0.9"/>
<line x1="312.7" y1="445.87" x2="314.5" y2="445.87" stroke="#1e1e1e" stroke-width="0.9"/>
<line x1="312.7" y1="438.48" x2="314.5" y2="438.48" stroke="#1e1e1e" stroke-width="0.9"/>
<line x1="312.7" y1="431.09" x2="314.5" y2="431.09" stroke="#1e1e1e" stroke-width="0.9"/>
<line x1="312.7" y1="416.31" x2="314.5" y2="416.31" stroke="#1e1e1e" stroke-width="0.9"/>
<line x1="312.7" y1="408.92" x2="314.5" y2="408.92" stroke="#1e1e1e" stroke-width="0.9"/>
<line x1="312.7" y1="401.53" x2="314.5" y2="401.53" stroke="#1e1e1e" stroke-width="0.9"/>
<line x1="312.7" y1="394.14" x2="314.5" y2="394.14" stroke="#1e1e1e" stroke-width="0.9"/>
<line x1="314.5" y1="497.6" x2="314.5" y2="500.40000000000003" stroke="#1e1e1e" stroke-width="1"/>
<text x="314.50" y="511.50" font-size="8.5" text-anchor="middle" font-weight="normal" font-style="normal" fill="#262626" stroke="#262626" stroke-width="0.18" letter-spacing="0.25">0</text>
<line x1="352.6" y1="497.6" x2="352.6" y2="500.40000000000003" stroke="#1e1e1e" stroke-width="1"/>
<text x="352.60" y="511.50" font-size="8.5" text-anchor="middle" font-weight="normal" font-style="normal" fill="#262626" stroke="#262626" stroke-width="0.18" letter-spacing="0.25">1</text>
<line x1="390.7" y1="497.6" x2="390.7" y2="500.40000000000003" stroke="#1e1e1e" stroke-width="1"/>
<text x="390.70" y="511.50" font-size="8.5" text-anchor="middle" font-weight="normal" font-style="normal" fill="#262626" stroke="#262626" stroke-width="0.18" letter-spacing="0.25">2</text>
<line x1="428.8" y1="497.6" x2="428.8" y2="500.40000000000003" stroke="#1e1e1e" stroke-width="1"/>
<text x="428.80" y="511.50" font-size="8.5" text-anchor="middle" font-weight="normal" font-style="normal" fill="#262626" stroke="#262626" stroke-width="0.18" letter-spacing="0.25">3</text>
<line x1="466.9" y1="497.6" x2="466.9" y2="500.40000000000003" stroke="#1e1e1e" stroke-width="1"/>
<text x="466.90" y="511.50" font-size="8.5" text-anchor="middle" font-weight="normal" font-style="normal" fill="#262626" stroke="#262626" stroke-width="0.18" letter-spacing="0.25">4</text>
<line x1="505.0" y1="497.6" x2="505.0" y2="500.40000000000003" stroke="#1e1e1e" stroke-width="1"/>
<text x="505.00" y="511.50" font-size="8.5" text-anchor="middle" font-weight="normal" font-style="normal" fill="#262626" stroke="#262626" stroke-width="0.18" letter-spacing="0.25">5</text>
<text x="405.3" y="525.8" font-size="9.9" text-anchor="middle" fill="#262626" stroke="#262626" stroke-width="0.42" textLength="42.9" lengthAdjust="spacingAndGlyphs">U46619 [μM]</text>
<text x="0" y="0" font-size="8.5" text-anchor="middle" fill="#262626" textLength="11.8" lengthAdjust="spacingAndGlyphs" stroke="#262626" stroke-width="0.5" transform="translate(277.2,440) rotate(-90)">MFI</text>
<path d="M352.50 397.50V421.25M350.60 397.50H354.40M350.60 421.25H354.40" stroke="#7ba27d" stroke-width="0.75" fill="none"/>
<path d="M410.00 392.00V414.50M408.10 392.00H411.90M408.10 414.50H411.90" stroke="#7ba27d" stroke-width="0.75" fill="none"/>
<path d="M505.00 403.75V427.00M503.10 403.75H506.90M503.10 427.00H506.90" stroke="#7ba27d" stroke-width="0.75" fill="none"/>
<path d="M314.50 476.00V486.00M312.60 476.00H316.40M312.60 486.00H316.40" stroke="#7088a0" stroke-width="0.75" fill="none"/>
<path d="M352.50 476.25V488.75M350.60 476.25H354.40M350.60 488.75H354.40" stroke="#7088a0" stroke-width="0.75" fill="none"/>
<path d="M410.00 458.75V483.75M408.10 458.75H411.90M408.10 483.75H411.90" stroke="#7088a0" stroke-width="0.75" fill="none"/>
<path d="M505.00 472.50V485.50M503.10 472.50H506.90M503.10 485.50H506.90" stroke="#7088a0" stroke-width="0.75" fill="none"/>
<path d="M314.50 477.00V483.00M312.60 477.00H316.40M312.60 483.00H316.40" stroke="#b57a88" stroke-width="0.75" fill="none"/>
<path d="M352.50 443.75V476.25M350.60 443.75H354.40M350.60 476.25H354.40" stroke="#b57a88" stroke-width="0.75" fill="none"/>
<path d="M410.00 457.00V485.00M408.10 457.00H411.90M408.10 485.00H411.90" stroke="#b57a88" stroke-width="0.75" fill="none"/>
<path d="M505.00 448.25V470.00M503.10 448.25H506.90M503.10 470.00H506.90" stroke="#b57a88" stroke-width="0.75" fill="none"/>
<path d="M314.50 449.25 L352.50 409.50 L410.00 403.25 L505.00 415.50" stroke="#5aa85e" stroke-width="0.9" fill="none"/>
<path d="M314.50 481.25 L352.50 482.50 L410.00 471.25 L505.00 478.75" stroke="#45709a" stroke-width="0.9" fill="none"/>
<path d="M314.50 480.00 L352.50 461.75 L410.00 471.25 L505.00 463.25" stroke="#d0406a" stroke-width="0.9" fill="none"/>
<path d="M314.50 477.60L316.90 481.92L312.10 481.92Z" fill="#ab1538"/>
<path d="M352.50 459.35L354.90 463.67L350.10 463.67Z" fill="#ab1538"/>
<path d="M410.00 468.85L412.40 473.17L407.60 473.17Z" fill="#ab1538"/>
<path d="M505.00 460.85L507.40 465.17L502.60 465.17Z" fill="#ab1538"/>
<circle cx="314.50" cy="449.25" r="2.20" fill="#2b7f38"/>
<circle cx="352.50" cy="409.50" r="2.20" fill="#2b7f38"/>
<circle cx="410.00" cy="403.25" r="2.20" fill="#2b7f38"/>
<circle cx="505.00" cy="415.50" r="2.20" fill="#2b7f38"/>
<rect x="312.25" y="479.00" width="4.50" height="4.50" fill="#163f66"/>
<rect x="350.25" y="480.25" width="4.50" height="4.50" fill="#163f66"/>
<rect x="407.75" y="469.00" width="4.50" height="4.50" fill="#163f66"/>
<rect x="502.75" y="476.50" width="4.50" height="4.50" fill="#163f66"/>
<line x1="52.5" y1="552.5" x2="52.5" y2="667.35" stroke="#1e1e1e" stroke-width="1.25"/>
<line x1="51.9" y1="666.75" x2="235.5" y2="666.75" stroke="#1e1e1e" stroke-width="1.25"/>
<line x1="49.5" y1="666.75" x2="52.5" y2="666.75" stroke="#1e1e1e" stroke-width="1"/>
<text x="46.60" y="669.35" font-size="8.5" text-anchor="end" font-weight="normal" font-style="normal" fill="#262626" stroke="#262626" stroke-width="0.18" letter-spacing="0.25">0</text>
<line x1="49.5" y1="644.3" x2="52.5" y2="644.3" stroke="#1e1e1e" stroke-width="1"/>
<text x="46.60" y="646.90" font-size="8.5" text-anchor="end" font-weight="normal" font-style="normal" fill="#262626" stroke="#262626" stroke-width="0.18" letter-spacing="0.25">5000</text>
<line x1="49.5" y1="621.85" x2="52.5" y2="621.85" stroke="#1e1e1e" stroke-width="1"/>
<text x="46.60" y="624.45" font-size="8.5" text-anchor="end" font-weight="normal" font-style="normal" fill="#262626" stroke="#262626" stroke-width="0.18" letter-spacing="0.25">10000</text>
<line x1="49.5" y1="599.4" x2="52.5" y2="599.4" stroke="#1e1e1e" stroke-width="1"/>
<text x="46.60" y="602.00" font-size="8.5" text-anchor="end" font-weight="normal" font-style="normal" fill="#262626" stroke="#262626" stroke-width="0.18" letter-spacing="0.25">15000</text>
<line x1="49.5" y1="576.95" x2="52.5" y2="576.95" stroke="#1e1e1e" stroke-width="1"/>
<text x="46.60" y="579.55" font-size="8.5" text-anchor="end" font-weight="normal" font-style="normal" fill="#262626" stroke="#262626" stroke-width="0.18" letter-spacing="0.25">20000</text>
<line x1="49.5" y1="554.5" x2="52.5" y2="554.5" stroke="#1e1e1e" stroke-width="1"/>
<text x="46.60" y="557.10" font-size="8.5" text-anchor="end" font-weight="normal" font-style="normal" fill="#262626" stroke="#262626" stroke-width="0.18" letter-spacing="0.25">25000</text>
<line x1="50.7" y1="662.26" x2="52.5" y2="662.26" stroke="#1e1e1e" stroke-width="0.9"/>
<line x1="50.7" y1="657.77" x2="52.5" y2="657.77" stroke="#1e1e1e" stroke-width="0.9"/>
<line x1="50.7" y1="653.28" x2="52.5" y2="653.28" stroke="#1e1e1e" stroke-width="0.9"/>
<line x1="50.7" y1="648.79" x2="52.5" y2="648.79" stroke="#1e1e1e" stroke-width="0.9"/>
<line x1="50.7" y1="639.81" x2="52.5" y2="639.81" stroke="#1e1e1e" stroke-width="0.9"/>
<line x1="50.7" y1="635.32" x2="52.5" y2="635.32" stroke="#1e1e1e" stroke-width="0.9"/>
<line x1="50.7" y1="630.83" x2="52.5" y2="630.83" stroke="#1e1e1e" stroke-width="0.9"/>
<line x1="50.7" y1="626.34" x2="52.5" y2="626.34" stroke="#1e1e1e" stroke-width="0.9"/>
<line x1="50.7" y1="617.36" x2="52.5" y2="617.36" stroke="#1e1e1e" stroke-width="0.9"/>
<line x1="50.7" y1="612.87" x2="52.5" y2="612.87" stroke="#1e1e1e" stroke-width="0.9"/>
<line x1="50.7" y1="608.38" x2="52.5" y2="608.38" stroke="#1e1e1e" stroke-width="0.9"/>
<line x1="50.7" y1="603.89" x2="52.5" y2="603.89" stroke="#1e1e1e" stroke-width="0.9"/>
<line x1="50.7" y1="594.91" x2="52.5" y2="594.91" stroke="#1e1e1e" stroke-width="0.9"/>
<line x1="50.7" y1="590.42" x2="52.5" y2="590.42" stroke="#1e1e1e" stroke-width="0.9"/>
<line x1="50.7" y1="585.93" x2="52.5" y2="585.93" stroke="#1e1e1e" stroke-width="0.9"/>
<line x1="50.7" y1="581.44" x2="52.5" y2="581.44" stroke="#1e1e1e" stroke-width="0.9"/>
<line x1="50.7" y1="572.46" x2="52.5" y2="572.46" stroke="#1e1e1e" stroke-width="0.9"/>
<line x1="50.7" y1="567.97" x2="52.5" y2="567.97" stroke="#1e1e1e" stroke-width="0.9"/>
<line x1="50.7" y1="563.48" x2="52.5" y2="563.48" stroke="#1e1e1e" stroke-width="0.9"/>
<line x1="50.7" y1="558.99" x2="52.5" y2="558.99" stroke="#1e1e1e" stroke-width="0.9"/>
<line x1="52.5" y1="666.75" x2="52.5" y2="669.55" stroke="#1e1e1e" stroke-width="1"/>
<text x="52.50" y="680.50" font-size="8.5" text-anchor="middle" font-weight="normal" font-style="normal" fill="#262626" stroke="#262626" stroke-width="0.18" letter-spacing="0.25">0</text>
<line x1="112.5" y1="666.75" x2="112.5" y2="669.55" stroke="#1e1e1e" stroke-width="1"/>
<text x="112.50" y="680.50" font-size="8.5" text-anchor="middle" font-weight="normal" font-style="normal" fill="#262626" stroke="#262626" stroke-width="0.18" letter-spacing="0.25">50</text>
<line x1="172.5" y1="666.75" x2="172.5" y2="669.55" stroke="#1e1e1e" stroke-width="1"/>
<text x="172.50" y="680.50" font-size="8.5" text-anchor="middle" font-weight="normal" font-style="normal" fill="#262626" stroke="#262626" stroke-width="0.18" letter-spacing="0.25">100</text>
<line x1="232.5" y1="666.75" x2="232.5" y2="669.55" stroke="#1e1e1e" stroke-width="1"/>
<text x="232.50" y="680.50" font-size="8.5" text-anchor="middle" font-weight="normal" font-style="normal" fill="#262626" stroke="#262626" stroke-width="0.18" letter-spacing="0.25">150</text>
<line x1="64.50" y1="666.75" x2="64.50" y2="668.55" stroke="#1e1e1e" stroke-width="0.9"/>
<line x1="76.50" y1="666.75" x2="76.50" y2="668.55" stroke="#1e1e1e" stroke-width="0.9"/>
<line x1="88.50" y1="666.75" x2="88.50" y2="668.55" stroke="#1e1e1e" stroke-width="0.9"/>
<line x1="100.50" y1="666.75" x2="100.50" y2="668.55" stroke="#1e1e1e" stroke-width="0.9"/>
<line x1="124.50" y1="666.75" x2="124.50" y2="668.55" stroke="#1e1e1e" stroke-width="0.9"/>
<line x1="136.50" y1="666.75" x2="136.50" y2="668.55" stroke="#1e1e1e" stroke-width="0.9"/>
<line x1="148.50" y1="666.75" x2="148.50" y2="668.55" stroke="#1e1e1e" stroke-width="0.9"/>
<line x1="160.50" y1="666.75" x2="160.50" y2="668.55" stroke="#1e1e1e" stroke-width="0.9"/>
<line x1="184.50" y1="666.75" x2="184.50" y2="668.55" stroke="#1e1e1e" stroke-width="0.9"/>
<line x1="196.50" y1="666.75" x2="196.50" y2="668.55" stroke="#1e1e1e" stroke-width="0.9"/>
<line x1="208.50" y1="666.75" x2="208.50" y2="668.55" stroke="#1e1e1e" stroke-width="0.9"/>
<line x1="220.50" y1="666.75" x2="220.50" y2="668.55" stroke="#1e1e1e" stroke-width="0.9"/>
<text x="144.7" y="694.6" font-size="9.9" text-anchor="middle" fill="#262626" stroke="#262626" stroke-width="0.42" textLength="57.6" lengthAdjust="spacingAndGlyphs">Convulxin [ng/mL]</text>
<text x="0" y="0" font-size="8.5" text-anchor="middle" fill="#262626" textLength="11.8" lengthAdjust="spacingAndGlyphs" stroke="#262626" stroke-width="0.5" transform="translate(15.2,608.75) rotate(-90)">MFI</text>
<path d="M52.50 634.00V641.00M50.60 634.00H54.40M50.60 641.00H54.40" stroke="#7ba27d" stroke-width="0.75" fill="none"/>
<path d="M83.00 615.50V627.50M81.10 615.50H84.90M81.10 627.50H84.90" stroke="#7ba27d" stroke-width="0.75" fill="none"/>
<path d="M143.00 576.00V584.00M141.10 576.00H144.90M141.10 584.00H144.90" stroke="#7ba27d" stroke-width="0.75" fill="none"/>
<path d="M232.50 571.00V575.50M230.60 571.00H234.40M230.60 575.50H234.40" stroke="#7ba27d" stroke-width="0.75" fill="none"/>
<path d="M52.50 655.00V663.00M50.60 655.00H54.40M50.60 663.00H54.40" stroke="#7088a0" stroke-width="0.75" fill="none"/>
<path d="M83.00 597.00V608.00M81.10 597.00H84.90M81.10 608.00H84.90" stroke="#7088a0" stroke-width="0.75" fill="none"/>
<path d="M143.00 562.50V571.00M141.10 562.50H144.90M141.10 571.00H144.90" stroke="#7088a0" stroke-width="0.75" fill="none"/>
<path d="M232.50 566.00V570.50M230.60 566.00H234.40M230.60 570.50H234.40" stroke="#7088a0" stroke-width="0.75" fill="none"/>
<path d="M83.00 626.25V645.00M81.10 626.25H84.90M81.10 645.00H84.90" stroke="#b57a88" stroke-width="0.75" fill="none"/>
<path d="M143.00 584.00V592.00M141.10 584.00H144.90M141.10 592.00H144.90" stroke="#b57a88" stroke-width="0.75" fill="none"/>
<path d="M232.50 578.75V590.50M230.60 578.75H234.40M230.60 590.50H234.40" stroke="#b57a88" stroke-width="0.75" fill="none"/>
<path d="M52.50 637.50 L83.00 621.25 L143.00 580.00 L232.50 573.25" stroke="#5aa85e" stroke-width="0.9" fill="none"/>
<path d="M52.50 660.00 L83.00 603.00 L143.00 567.00 L232.50 568.25" stroke="#45709a" stroke-width="0.9" fill="none"/>
<path d="M52.50 661.00 L83.00 636.75 L143.00 588.00 L232.50 585.00" stroke="#d0406a" stroke-width="0.9" fill="none"/>
<path d="M52.50 658.60L54.90 662.92L50.10 662.92Z" fill="#ab1538"/>
<path d="M83.00 634.35L85.40 638.67L80.60 638.67Z" fill="#ab1538"/>
<path d="M143.00 585.60L145.40 589.92L140.60 589.92Z" fill="#ab1538"/>
<path d="M232.50 582.60L234.90 586.92L230.10 586.92Z" fill="#ab1538"/>
<circle cx="52.50" cy="637.50" r="2.20" fill="#2b7f38"/>
<circle cx="83.00" cy="621.25" r="2.20" fill="#2b7f38"/>
<circle cx="143.00" cy="580.00" r="2.20" fill="#2b7f38"/>
<circle cx="232.50" cy="573.25" r="2.20" fill="#2b7f38"/>
<rect x="50.25" y="657.75" width="4.50" height="4.50" fill="#163f66"/>
<rect x="80.75" y="600.75" width="4.50" height="4.50" fill="#163f66"/>
<rect x="140.75" y="564.75" width="4.50" height="4.50" fill="#163f66"/>
<rect x="230.25" y="566.00" width="4.50" height="4.50" fill="#163f66"/>
<text x="83.75" y="595.30" font-size="8.0" text-anchor="middle" font-weight="normal" font-style="normal" fill="#262626" stroke="#262626" stroke-width="0.18" >n.s.</text>
<text x="87.50" y="640.30" font-size="8.0" text-anchor="start" font-weight="normal" font-style="normal" fill="#262626" stroke="#262626" stroke-width="0.18" >n.s.</text>
<text x="143.75" y="559.80" font-size="8.0" text-anchor="middle" font-weight="normal" font-style="normal" fill="#262626" stroke="#262626" stroke-width="0.18" >n.s.</text>
<text x="148.00" y="598.30" font-size="8.0" text-anchor="middle" font-weight="normal" font-style="normal" fill="#262626" stroke="#262626" stroke-width="0.18" >n.s.</text>
<text x="233.75" y="564.00" font-size="8.0" text-anchor="middle" font-weight="normal" font-style="normal" fill="#262626" stroke="#262626" stroke-width="0.18" >n.s.</text>
<text x="233.75" y="599.00" font-size="8.0" text-anchor="middle" font-weight="normal" font-style="normal" fill="#262626" stroke="#262626" stroke-width="0.18" >n.s.</text>
<line x1="314.5" y1="552.5" x2="314.5" y2="667.6" stroke="#1e1e1e" stroke-width="1.25"/>
<line x1="313.9" y1="667" x2="508" y2="667" stroke="#1e1e1e" stroke-width="1.25"/>
<line x1="311.5" y1="667.0" x2="314.5" y2="667.0" stroke="#1e1e1e" stroke-width="1"/>
<text x="308.60" y="669.60" font-size="8.5" text-anchor="end" font-weight="normal" font-style="normal" fill="#262626" stroke="#262626" stroke-width="0.18" letter-spacing="0.25">0</text>
<line x1="311.5" y1="639.125" x2="314.5" y2="639.125" stroke="#1e1e1e" stroke-width="1"/>
<text x="308.60" y="641.73" font-size="8.5" text-anchor="end" font-weight="normal" font-style="normal" fill="#262626" stroke="#262626" stroke-width="0.18" letter-spacing="0.25">1000</text>
<line x1="311.5" y1="611.25" x2="314.5" y2="611.25" stroke="#1e1e1e" stroke-width="1"/>
<text x="308.60" y="613.85" font-size="8.5" text-anchor="end" font-weight="normal" font-style="normal" fill="#262626" stroke="#262626" stroke-width="0.18" letter-spacing="0.25">2000</text>
<line x1="311.5" y1="583.375" x2="314.5" y2="583.375" stroke="#1e1e1e" stroke-width="1"/>
<text x="308.60" y="585.98" font-size="8.5" text-anchor="end" font-weight="normal" font-style="normal" fill="#262626" stroke="#262626" stroke-width="0.18" letter-spacing="0.25">3000</text>
<line x1="311.5" y1="555.5" x2="314.5" y2="555.5" stroke="#1e1e1e" stroke-width="1"/>
<text x="308.60" y="558.10" font-size="8.5" text-anchor="end" font-weight="normal" font-style="normal" fill="#262626" stroke="#262626" stroke-width="0.18" letter-spacing="0.25">4000</text>
<line x1="312.7" y1="661.42" x2="314.5" y2="661.42" stroke="#1e1e1e" stroke-width="0.9"/>
<line x1="312.7" y1="655.85" x2="314.5" y2="655.85" stroke="#1e1e1e" stroke-width="0.9"/>
<line x1="312.7" y1="650.27" x2="314.5" y2="650.27" stroke="#1e1e1e" stroke-width="0.9"/>
<line x1="312.7" y1="644.70" x2="314.5" y2="644.70" stroke="#1e1e1e" stroke-width="0.9"/>
<line x1="312.7" y1="633.55" x2="314.5" y2="633.55" stroke="#1e1e1e" stroke-width="0.9"/>
<line x1="312.7" y1="627.98" x2="314.5" y2="627.98" stroke="#1e1e1e" stroke-width="0.9"/>
<line x1="312.7" y1="622.40" x2="314.5" y2="622.40" stroke="#1e1e1e" stroke-width="0.9"/>
<line x1="312.7" y1="616.83" x2="314.5" y2="616.83" stroke="#1e1e1e" stroke-width="0.9"/>
<line x1="312.7" y1="605.67" x2="314.5" y2="605.67" stroke="#1e1e1e" stroke-width="0.9"/>
<line x1="312.7" y1="600.10" x2="314.5" y2="600.10" stroke="#1e1e1e" stroke-width="0.9"/>
<line x1="312.7" y1="594.52" x2="314.5" y2="594.52" stroke="#1e1e1e" stroke-width="0.9"/>
<line x1="312.7" y1="588.95" x2="314.5" y2="588.95" stroke="#1e1e1e" stroke-width="0.9"/>
<line x1="312.7" y1="577.80" x2="314.5" y2="577.80" stroke="#1e1e1e" stroke-width="0.9"/>
<line x1="312.7" y1="572.23" x2="314.5" y2="572.23" stroke="#1e1e1e" stroke-width="0.9"/>
<line x1="312.7" y1="566.65" x2="314.5" y2="566.65" stroke="#1e1e1e" stroke-width="0.9"/>
<line x1="312.7" y1="561.08" x2="314.5" y2="561.08" stroke="#1e1e1e" stroke-width="0.9"/>
<line x1="314.5" y1="667" x2="314.5" y2="669.8" stroke="#1e1e1e" stroke-width="1"/>
<text x="314.50" y="681.00" font-size="8.5" text-anchor="middle" font-weight="normal" font-style="normal" fill="#262626" stroke="#262626" stroke-width="0.18" letter-spacing="0.25">0</text>
<line x1="378.0" y1="667" x2="378.0" y2="669.8" stroke="#1e1e1e" stroke-width="1"/>
<text x="378.00" y="681.00" font-size="8.5" text-anchor="middle" font-weight="normal" font-style="normal" fill="#262626" stroke="#262626" stroke-width="0.18" letter-spacing="0.25">50</text>
<line x1="441.5" y1="667" x2="441.5" y2="669.8" stroke="#1e1e1e" stroke-width="1"/>
<text x="441.50" y="681.00" font-size="8.5" text-anchor="middle" font-weight="normal" font-style="normal" fill="#262626" stroke="#262626" stroke-width="0.18" letter-spacing="0.25">100</text>
<line x1="505.0" y1="667" x2="505.0" y2="669.8" stroke="#1e1e1e" stroke-width="1"/>
<text x="505.00" y="681.00" font-size="8.5" text-anchor="middle" font-weight="normal" font-style="normal" fill="#262626" stroke="#262626" stroke-width="0.18" letter-spacing="0.25">150</text>
<line x1="327.20" y1="667" x2="327.20" y2="668.8" stroke="#1e1e1e" stroke-width="0.9"/>
<line x1="339.90" y1="667" x2="339.90" y2="668.8" stroke="#1e1e1e" stroke-width="0.9"/>
<line x1="352.60" y1="667" x2="352.60" y2="668.8" stroke="#1e1e1e" stroke-width="0.9"/>
<line x1="365.30" y1="667" x2="365.30" y2="668.8" stroke="#1e1e1e" stroke-width="0.9"/>
<line x1="390.70" y1="667" x2="390.70" y2="668.8" stroke="#1e1e1e" stroke-width="0.9"/>
<line x1="403.40" y1="667" x2="403.40" y2="668.8" stroke="#1e1e1e" stroke-width="0.9"/>
<line x1="416.10" y1="667" x2="416.10" y2="668.8" stroke="#1e1e1e" stroke-width="0.9"/>
<line x1="428.80" y1="667" x2="428.80" y2="668.8" stroke="#1e1e1e" stroke-width="0.9"/>
<line x1="454.20" y1="667" x2="454.20" y2="668.8" stroke="#1e1e1e" stroke-width="0.9"/>
<line x1="466.90" y1="667" x2="466.90" y2="668.8" stroke="#1e1e1e" stroke-width="0.9"/>
<line x1="479.60" y1="667" x2="479.60" y2="668.8" stroke="#1e1e1e" stroke-width="0.9"/>
<line x1="492.30" y1="667" x2="492.30" y2="668.8" stroke="#1e1e1e" stroke-width="0.9"/>
<text x="411.3" y="694.6" font-size="9.9" text-anchor="middle" fill="#262626" stroke="#262626" stroke-width="0.42" textLength="57.6" lengthAdjust="spacingAndGlyphs">Convulxin [ng/mL]</text>
<text x="0" y="0" font-size="8.5" text-anchor="middle" fill="#262626" textLength="11.8" lengthAdjust="spacingAndGlyphs" stroke="#262626" stroke-width="0.5" transform="translate(277.2,610) rotate(-90)">MFI</text>
<path d="M314.50 631.00V635.00M312.60 631.00H316.40M312.60 635.00H316.40" stroke="#7ba27d" stroke-width="0.75" fill="none"/>
<path d="M346.25 628.00V638.75M344.35 628.00H348.15M344.35 638.75H348.15" stroke="#7ba27d" stroke-width="0.75" fill="none"/>
<path d="M410.00 566.00V573.00M408.10 566.00H411.90M408.10 573.00H411.90" stroke="#7ba27d" stroke-width="0.75" fill="none"/>
<path d="M505.00 562.00V568.00M503.10 562.00H506.90M503.10 568.00H506.90" stroke="#7ba27d" stroke-width="0.75" fill="none"/>
<path d="M314.50 650.00V657.00M312.60 650.00H316.40M312.60 657.00H316.40" stroke="#7088a0" stroke-width="0.75" fill="none"/>
<path d="M346.25 606.25V617.50M344.35 606.25H348.15M344.35 617.50H348.15" stroke="#7088a0" stroke-width="0.75" fill="none"/>
<path d="M410.00 575.00V580.00M408.10 575.00H411.90M408.10 580.00H411.90" stroke="#7088a0" stroke-width="0.75" fill="none"/>
<path d="M505.00 557.50V567.00M503.10 557.50H506.90M503.10 567.00H506.90" stroke="#7088a0" stroke-width="0.75" fill="none"/>
<path d="M314.50 656.00V661.00M312.60 656.00H316.40M312.60 661.00H316.40" stroke="#b57a88" stroke-width="0.75" fill="none"/>
<path d="M346.25 639.50V653.75M344.35 639.50H348.15M344.35 653.75H348.15" stroke="#b57a88" stroke-width="0.75" fill="none"/>
<path d="M314.50 633.00 L346.25 633.75 L410.00 570.00 L505.00 565.00" stroke="#5aa85e" stroke-width="0.9" fill="none"/>
<path d="M314.50 653.75 L346.25 612.00 L410.00 577.50 L505.00 563.00" stroke="#45709a" stroke-width="0.9" fill="none"/>
<path d="M314.50 658.75 L346.25 645.50 L410.00 581.25 L505.00 574.50" stroke="#d0406a" stroke-width="0.9" fill="none"/>
<path d="M314.50 656.35L316.90 660.67L312.10 660.67Z" fill="#ab1538"/>
<path d="M346.25 643.10L348.65 647.42L343.85 647.42Z" fill="#ab1538"/>
<path d="M410.00 578.85L412.40 583.17L407.60 583.17Z" fill="#ab1538"/>
<path d="M505.00 572.10L507.40 576.42L502.60 576.42Z" fill="#ab1538"/>
<circle cx="314.50" cy="633.00" r="2.20" fill="#2b7f38"/>
<circle cx="346.25" cy="633.75" r="2.20" fill="#2b7f38"/>
<circle cx="410.00" cy="570.00" r="2.20" fill="#2b7f38"/>
<circle cx="505.00" cy="565.00" r="2.20" fill="#2b7f38"/>
<rect x="312.25" y="651.50" width="4.50" height="4.50" fill="#163f66"/>
<rect x="344.00" y="609.75" width="4.50" height="4.50" fill="#163f66"/>
<rect x="407.75" y="575.25" width="4.50" height="4.50" fill="#163f66"/>
<rect x="502.75" y="560.75" width="4.50" height="4.50" fill="#163f66"/>
<text x="347.50" y="603.30" font-size="8.0" text-anchor="middle" font-weight="normal" font-style="normal" fill="#262626" stroke="#262626" stroke-width="0.18" >n.s.</text>
<text x="360.50" y="649.80" font-size="8.0" text-anchor="middle" font-weight="normal" font-style="normal" fill="#262626" stroke="#262626" stroke-width="0.18" >n.s.</text>
<text x="410.00" y="563.30" font-size="8.0" text-anchor="middle" font-weight="normal" font-style="normal" fill="#262626" stroke="#262626" stroke-width="0.18" >n.s.</text>
<text x="415.50" y="590.30" font-size="8.0" text-anchor="middle" font-weight="normal" font-style="normal" fill="#262626" stroke="#262626" stroke-width="0.18" >n.s.</text>
<text x="506.25" y="556.00" font-size="8.0" text-anchor="middle" font-weight="normal" font-style="normal" fill="#262626" stroke="#262626" stroke-width="0.18" >n.s.</text>
<text x="506.75" y="584.00" font-size="8.0" text-anchor="middle" font-weight="normal" font-style="normal" fill="#262626" stroke="#262626" stroke-width="0.18" >n.s.</text>
<text x="96.9" y="16" font-size="9.6" fill="#262626" stroke="#262626" stroke-width="0.2" textLength="109" lengthAdjust="spacingAndGlyphs">Integrin activation (Jon/A)</text>
<text x="349" y="16" font-size="9.6" fill="#262626" stroke="#262626" stroke-width="0.2" textLength="125" lengthAdjust="spacingAndGlyphs">α-granule secretion (Cd62p)</text>
<text x="12.5" y="35.4" font-size="11.5" font-weight="bold" fill="#111" stroke="#111" stroke-width="0.35">A</text>
<text x="8.2" y="205.2" font-size="11.5" font-weight="bold" fill="#111" stroke="#111" stroke-width="0.35">B</text>
<text x="8.0" y="375.5" font-size="11.5" font-weight="bold" fill="#111" stroke="#111" stroke-width="0.35">C</text>
<text x="8.6" y="545.5" font-size="11.5" font-weight="bold" fill="#111" stroke="#111" stroke-width="0.35">D</text>
<line x1="187.7" y1="704" x2="197.7" y2="704" stroke="#5aa85e" stroke-width="1"/>
<circle cx="192.50" cy="704.00" r="1.98" fill="#2b7f38"/>
<text x="200.8" y="706.9" font-size="7.6" fill="#262626" textLength="23.4" lengthAdjust="spacingAndGlyphs">Vehicle</text>
<line x1="231" y1="704" x2="241" y2="704" stroke="#45709a" stroke-width="1"/>
<rect x="233.97" y="701.98" width="4.05" height="4.05" fill="#163f66"/>
<text x="244" y="706.9" font-size="7.6" fill="#262626" textLength="49" lengthAdjust="spacingAndGlyphs">Cycloheximide</text>
<line x1="299.2" y1="704" x2="309.8" y2="704" stroke="#d0406a" stroke-width="1"/>
<path d="M304.50 701.84L306.66 705.73L302.34 705.73Z" fill="#ab1538"/>
<text x="312.7" y="706.9" font-size="7.6" fill="#262626" textLength="35" lengthAdjust="spacingAndGlyphs">Puromycin</text>
<rect x="0.5" y="0.5" width="519" height="715" fill="none" stroke="#555" stroke-width="1"/>
</svg>
</body></html>
